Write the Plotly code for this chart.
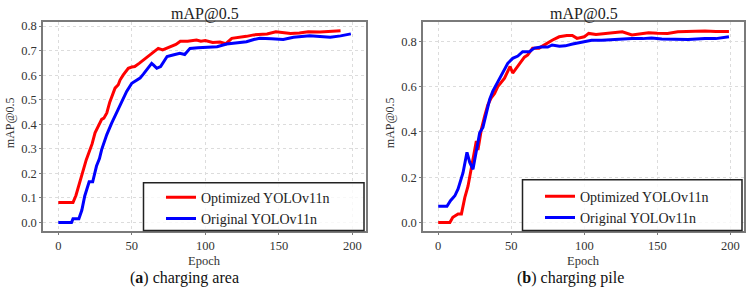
import plotly.graph_objects as go

# ---- data: (a) charging area ----
a_opt_epoch = [0, 10, 12, 15, 17, 19, 21.6, 23, 25, 27, 29.5, 31, 33, 35, 36.3, 38.6, 40.8, 42, 44.2, 47.6, 50, 52, 55, 58,
               62, 65, 68, 71, 74, 76, 80, 83, 88, 94, 97, 100, 105, 110, 114, 118, 121, 128, 133, 137, 142, 148, 154,
               158, 164, 170, 178, 185, 192, 199]
a_opt_map = [0.081, 0.081, 0.11, 0.17, 0.216, 0.255, 0.297, 0.32, 0.365, 0.39, 0.42, 0.425, 0.446, 0.49, 0.513, 0.547,
             0.561, 0.58, 0.601, 0.628, 0.633, 0.635, 0.648, 0.662, 0.682, 0.693, 0.709, 0.703, 0.71, 0.716, 0.725,
             0.738, 0.738, 0.743, 0.738, 0.741, 0.733, 0.735, 0.728, 0.75, 0.752, 0.758, 0.764, 0.767, 0.768, 0.777,
             0.772, 0.77, 0.772, 0.777, 0.776, 0.778, 0.781]
a_org_epoch = [0, 9, 10, 14, 16, 18, 21, 23.4, 26, 28, 29.5, 33, 36.3, 39.7, 43, 46.5, 50, 53, 55.6, 58, 60, 63.5, 65,
               67, 69.6, 72, 74, 78, 82.7, 86, 89.6, 95, 103, 108, 114.5, 120, 128, 133, 137, 145, 153, 160, 165, 171,
               178, 185, 192, 199]
a_org_map = [0.0, 0.0, 0.015, 0.015, 0.05, 0.108, 0.166, 0.166, 0.23, 0.26, 0.297, 0.358, 0.405, 0.446, 0.486, 0.534,
             0.567, 0.58, 0.588, 0.605, 0.622, 0.648, 0.64, 0.628, 0.635, 0.66, 0.676, 0.682, 0.689, 0.684, 0.709,
             0.712, 0.716, 0.716, 0.727, 0.73, 0.736, 0.745, 0.75, 0.748, 0.745, 0.754, 0.757, 0.76, 0.757, 0.754,
             0.76, 0.768]

# ---- data: (b) charging pile ----
b_opt_epoch = [0, 8, 10, 13.6, 15.9, 18.2, 20.4, 22.7, 23.8, 26.1, 27.2, 29.5, 31.8, 34, 36.3, 38.6, 40.8, 43.1, 45.4,
               47.6, 49.2, 51, 53.3, 55.6, 59, 61.3, 64.6, 69, 73.7, 78, 82.8, 88, 91.8, 95, 100, 103, 108, 114.6, 119,
               126, 132.6, 138, 144, 150, 157, 164, 170, 176, 182.6, 190, 199]
b_opt_map = [0.0, 0.0, 0.023, 0.038, 0.038, 0.11, 0.16, 0.24, 0.28, 0.36, 0.32, 0.41, 0.47, 0.52, 0.55, 0.57, 0.6, 0.62,
             0.637, 0.667, 0.689, 0.66, 0.68, 0.703, 0.73, 0.74, 0.77, 0.77, 0.79, 0.805, 0.82, 0.826, 0.826, 0.813,
             0.82, 0.835, 0.83, 0.835, 0.835, 0.842, 0.828, 0.834, 0.838, 0.836, 0.835, 0.842, 0.842, 0.845, 0.846,
             0.843, 0.843]
b_org_epoch = [0, 6, 8.4, 11.4, 13.6, 15.2, 17, 19.7, 21.6, 23.8, 26.1, 28.4, 30.6, 32.9, 35.2, 37.4, 40.8, 44.2, 47.6,
               51, 54.5, 57.8, 62.4, 65.8, 70.4, 75, 78, 83, 87, 92, 96, 100, 105, 112, 119, 126, 132.7, 140, 146, 153,
               160, 171, 182.6, 190, 199]
b_org_map = [0.072, 0.072, 0.096, 0.118, 0.148, 0.18, 0.22, 0.31, 0.265, 0.235, 0.323, 0.396, 0.42, 0.484, 0.543, 0.58,
             0.623, 0.667, 0.703, 0.725, 0.735, 0.754, 0.754, 0.77, 0.775, 0.775, 0.784, 0.778, 0.78, 0.788, 0.793,
             0.8, 0.805, 0.805, 0.808, 0.81, 0.813, 0.812, 0.815, 0.81, 0.808, 0.808, 0.813, 0.812, 0.82]

series_names = ["Optimized YOLOv11n", "Original YOLOv11n"]
x_ticks = [0, 50, 100, 150, 200]

W, H = 751, 290
RED, BLUE = "#ff0000", "#0000ff"
SERIF = "Liberation Serif, Times New Roman, DejaVu Serif, serif"

fig = go.Figure()
fig.add_trace(go.Scatter(x=a_opt_epoch, y=a_opt_map, mode="lines", name=series_names[0],
                         line=dict(color=RED, width=3), xaxis="x", yaxis="y", legend="legend"))
fig.add_trace(go.Scatter(x=a_org_epoch, y=a_org_map, mode="lines", name=series_names[1],
                         line=dict(color=BLUE, width=3), xaxis="x", yaxis="y", legend="legend"))
fig.add_trace(go.Scatter(x=b_opt_epoch, y=b_opt_map, mode="lines", name=series_names[0],
                         line=dict(color=RED, width=3), xaxis="x2", yaxis="y2", legend="legend2"))
fig.add_trace(go.Scatter(x=b_org_epoch, y=b_org_map, mode="lines", name=series_names[1],
                         line=dict(color=BLUE, width=3), xaxis="x2", yaxis="y2", legend="legend2"))

def px_x(p):
    return p / W

def px_y(p):
    return 1 - p / H

axis_common = dict(showline=True, linecolor="#7a7a7a", linewidth=1.5, mirror=True,
                   ticks="outside", ticklen=2, tickcolor="#7a7a7a", tickwidth=1,
                   showgrid=True, gridcolor="#dcdcdc", griddash="dot", gridwidth=1,
                   zeroline=False, tickfont=dict(family=SERIF, size=12.5, color="#333333"))

left_dom = [px_x(43), px_x(366)]
right_dom = [px_x(423), px_x(744)]
y_dom = [px_y(230.7), px_y(20)]

def text_ann(text, x, y, size, color="#222222", angle=0, yanchor="middle"):
    return dict(text=text, x=px_x(x), y=px_y(y), xref="paper", yref="paper", showarrow=False,
                xanchor="center", yanchor=yanchor, textangle=angle, borderpad=0,
                font=dict(family=SERIF, size=size, color=color))

fig.update_layout(
    width=W, height=H, margin=dict(l=0, r=0, t=0, b=0),
    paper_bgcolor="white", plot_bgcolor="white",
    xaxis=dict(domain=left_dom, range=[-10.4, 209.3], tickvals=x_ticks, anchor="y", **axis_common),
    yaxis=dict(domain=y_dom, range=[-0.035, 0.817], dtick=0.1, tickformat=".1f", anchor="x",
               **axis_common),
    xaxis2=dict(domain=right_dom, range=[-10.4, 209.3], tickvals=x_ticks, anchor="y2", **axis_common),
    yaxis2=dict(domain=y_dom, range=[-0.038, 0.886], dtick=0.2, tickformat=".1f", anchor="x2",
                **axis_common),
    legend=dict(x=px_x(161), y=px_y(181), xanchor="left", yanchor="top", bgcolor="rgba(0,0,0,0)",
                borderwidth=0, font=dict(family=SERIF, size=14, color="#222222"), tracegroupgap=0),
    legend2=dict(x=px_x(540), y=px_y(180), xanchor="left", yanchor="top", bgcolor="rgba(0,0,0,0)",
                 borderwidth=0, font=dict(family=SERIF, size=14, color="#222222"), tracegroupgap=0),
    shapes=[
        dict(type="rect", xref="paper", yref="paper", x0=px_x(143.5), x1=px_x(364), y0=px_y(230), y1=px_y(182),
             line=dict(color="#222222", width=1.5), fillcolor="rgba(255,255,255,0.8)", layer="above"),
        dict(type="rect", xref="paper", yref="paper", x0=px_x(522.5), x1=px_x(742), y0=px_y(230), y1=px_y(179),
             line=dict(color="#222222", width=1.5), fillcolor="rgba(255,255,255,0.8)", layer="above"),
    ],
    annotations=[
        text_ann("mAP@0.5", 204.5, 12.5, 16),
        text_ann("mAP@0.5", 583.5, 12.5, 16),
        text_ann("Epoch", 204.5, 252.5, 12.5, "#333333", yanchor="top"),
        text_ann("Epoch", 583.5, 252.5, 12.5, "#333333", yanchor="top"),
        text_ann("mAP@0.5", 10, 122, 12, "#333333", -90),
        text_ann("mAP@0.5", 390, 122, 12, "#333333", -90),
        text_ann("(<b>a</b>) charging area", 184, 277.5, 16, "#111111"),
        text_ann("(<b>b</b>) charging pile", 570, 277.5, 16, "#111111"),
    ],
)

fig.write_html("out.html", config={"displayModeBar": False},
               post_script="document.body.style.margin='0px';document.body.style.padding='0px';")
